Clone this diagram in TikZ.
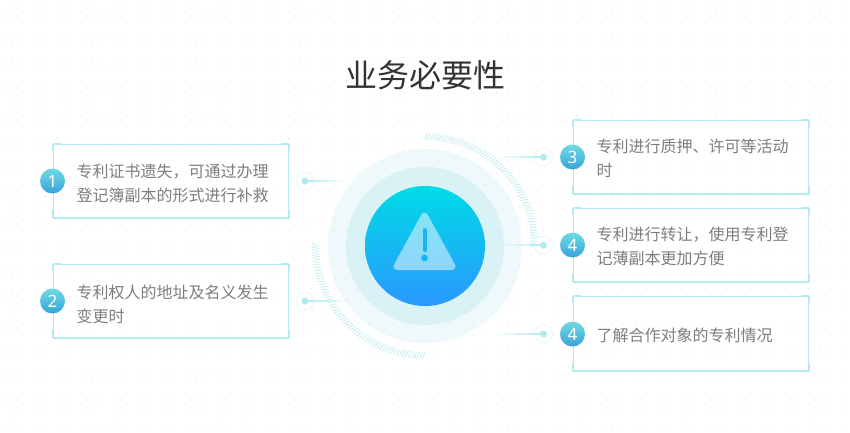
\documentclass[tikz,border=0pt]{standalone}
\usepackage{fontspec}
\setmainfont{Noto Sans}
\newfontfamily\cjk{Noto Sans CJK SC}
\usetikzlibrary{calc}
\definecolor{framecol}{HTML}{B4EBEE}
\definecolor{dotcol}{HTML}{B2EBEE}
\definecolor{gridcol}{HTML}{E6E8E9}
\definecolor{textcol}{HTML}{7E7E7E}
\definecolor{titlecol}{HTML}{333333}
\definecolor{badgetop}{HTML}{6FDAE2}
\definecolor{badgebot}{HTML}{38A3DC}
\definecolor{tickcol}{HTML}{C9EEF2}
\definecolor{ringout}{HTML}{EFF9FC}
\definecolor{ringin}{HTML}{D8F2F6}
\definecolor{maintop}{HTML}{00DBE6}
\definecolor{mainbot}{HTML}{2A98FF}
\definecolor{signcol}{HTML}{1AB4F4}
\tikzset{
    itembox/.style={draw=framecol, line width=1pt, fill=white, fill opacity=0.6, minimum width=235pt, minimum height=73.5pt, inner sep=0pt},
    itemtext/.style={text=textcol, font=\cjk\fontsize{16}{24}\selectfont, align=left, anchor=west, inner sep=0pt},
    badge/.style={circle, minimum size=25pt, inner sep=0pt, top color=badgetop, bottom color=badgebot, text=white, font=\fontsize{17}{17}\selectfont},
    dotnode/.style={circle, fill=dotcol, minimum size=7pt, inner sep=0pt},
    dotring/.style={circle, draw=dotcol!40, fill=white, line width=0.7pt, minimum size=18pt, inner sep=0pt},
    hatch/.style={draw=tickcol, line width=0.9pt}
}
\begin{document}
\begin{tikzpicture}[x=1pt,y=-1pt]
    \useasboundingbox (0,0) rectangle (850,432);
    \fill[white] (0,0) rectangle (850,432);

    % the pale rings behind the main circle
    \fill[fill=ringout] (425,246) circle (97);
    \fill[fill=ringin] (425,246) circle (79);

    % the dotted paper
    \foreach \i in {0,...,73} {
        \foreach \j in {0,...,37} {
            \fill[gridcol] (\i*11.55,\j*11.55) circle (0.75);
        }
    }

    % the two hatched arcs
    \foreach \a in {0,1.5,...,90} {
        \draw[hatch] ($(425,246)+(\a-90:106)$) -- ($(425,246)+(\a-88.8:113)$);
        \draw[hatch] ($(425,246)+(\a+90:106)$) -- ($(425,246)+(\a+91.2:113)$);
    }

    % the main circle and the warning sign
    \shade[top color=maintop, bottom color=mainbot] (425,246) circle (60);
    \fill[white, fill opacity=0.5, rounded corners=7pt] (424.5,209) -- (458,270) -- (391,270) -- cycle;
    \draw[signcol, line width=4pt, line cap=round] (424.5,230) -- (424.5,250);
    \fill[signcol] (424.5,258) circle (3.4);

    % the title
    \node[text=titlecol, font=\cjk\fontsize{32}{32}\selectfont] (title) at (425,75) {业务必要性};

    % the boxes
    \node[itembox] (box1) at (171,181) {};
    \node[itembox] (box2) at (171,301) {};
    \node[itembox] (box3) at (691,157) {};
    \node[itembox] (box4) at (691,245) {};
    \node[itembox] (box5) at (691,333.5) {};

    % the thick corners and bottom edge of every box
    \foreach \b in {box1,box2,box3,box4,box5} {
        \draw[framecol, line width=2pt] (\b.south west) -- (\b.south east);
        \draw[framecol, line width=2pt] (\b.north west) -- ++(0,7);
        \draw[framecol, line width=2pt] (\b.north west) -- ++(8,0);
        \draw[framecol, line width=2pt] (\b.north east) -- ++(0,7);
        \draw[framecol, line width=2pt] (\b.north east) -- ++(-8,0);
        \draw[framecol, line width=2pt] (\b.south west) -- ++(0,-8);
        \draw[framecol, line width=2pt] (\b.south east) -- ++(0,-8);
    }

    % the texts
    \node[itemtext] (text1) at (76.5,183) {专利证书遗失，可通过办理\\登记簿副本的形式进行补救};
    \node[itemtext] (text2) at (76.5,304) {专利权人的地址及名义发生\\变更时};
    \node[itemtext] (text3) at (596.5,158) {专利进行质押、许可等活动\\时};
    \node[itemtext] (text4) at (596.5,246) {专利进行转让，使用专利登\\记薄副本更加方便};
    \node[itemtext] (text5) at (596.5,335) {了解合作对象的专利情况};

    % the numbers
    \node[badge] (num1) at (52.5,181) {1};
    \node[badge] (num2) at (52.5,301) {2};
    \node[badge] (num3) at (572.5,157) {3};
    \node[badge] (num4) at (572.5,245) {4};
    \node[badge] (num5) at (572.5,334) {4};

    % the small points with their rings, the ends of the lines inside the rings
    \node[dotring] (ring1) at (305,181) {};
    \node[dotring] (ring2) at (305,301) {};
    \node[dotring] (ring3) at (543.5,157) {};
    \node[dotring] (ring4) at (543.5,245) {};
    \node[dotring] (ring5) at (543.5,334) {};
    \coordinate (end1) at (350,181);
    \coordinate (end2) at (350,301);
    \coordinate (end3) at (495,157);
    \coordinate (end4) at (500,245);
    \coordinate (end5) at (495,334);

    % draw the lines
    \foreach \k in {1,...,5} {
        \foreach \s in {0,...,9} {
            \pgfmathsetmacro{\fade}{0.95-\s/10}
            \pgfmathsetmacro{\nxt}{(\s+1)/10}
            \pgfmathsetmacro{\cur}{\s/10}
            \draw[dotcol, line width=1.1pt, opacity=\fade] ($(ring\k)!\cur!(end\k)$) -- ($(ring\k)!\nxt!(end\k)$);
        }
    }
    \node[dotnode] (point1) at (ring1) {};
    \node[dotnode] (point2) at (ring2) {};
    \node[dotnode] (point3) at (ring3) {};
    \node[dotnode] (point4) at (ring4) {};
    \node[dotnode] (point5) at (ring5) {};
\end{tikzpicture}
\end{document}
